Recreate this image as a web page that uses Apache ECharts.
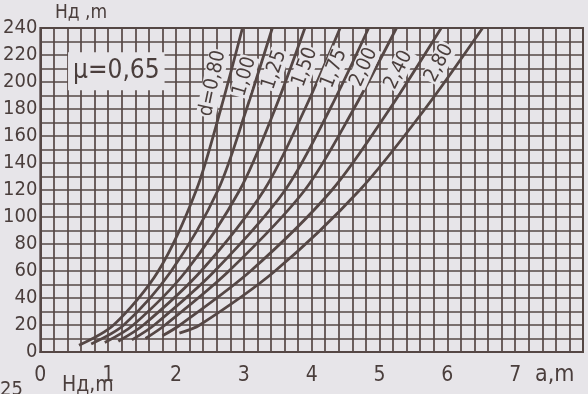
<!DOCTYPE html>
<html><head><meta charset="utf-8">
<script src="https://cdn.jsdelivr.net/npm/echarts@6/dist/echarts.min.js"></script>
<style>html,body{margin:0;padding:0;background:#e7e5e9}#c{width:588px;height:394px}</style>
</head><body><div id="c"></div>
<script>
// Axis ranges / ticks
const xMin = 0, xMax = 8, xStep = 0.2;
const yMin = 0, yMax = 240, yStep = 10;
// Curve labels (nozzle diameter d)
const dLabels = ['d=0,80', '1,00', '1,25', '1,50', '1,75', '2,00', '2,40', '2,80'];
// Curves: [a, Hд]
const curve080 = [[0.57, 5], [1.08, 20], [1.74, 60], [2.30, 120], [2.66, 180], [2.98, 240]];
const curve100 = [[0.75, 6], [1.23, 20], [1.93, 60], [2.62, 120], [3.04, 180], [3.42, 240]];
const curve125 = [[0.95, 7], [1.37, 20], [2.15, 60], [2.94, 120], [3.46, 180], [3.90, 240]];
const curve150 = [[1.15, 8], [1.52, 20], [2.37, 60], [3.30, 120], [3.90, 180], [4.42, 240]];
const curve175 = [[1.35, 9], [1.68, 20], [2.57, 60], [3.61, 120], [4.27, 180], [4.84, 240]];
const curve200 = [[1.55, 10], [1.84, 20], [2.78, 60], [3.90, 120], [4.62, 180], [5.25, 240]];
const curve240 = [[1.80, 12], [2.06, 20], [3.10, 60], [4.30, 120], [5.15, 180], [5.91, 240]];
const curve280 = [[2.05, 14], [2.35, 20], [3.46, 60], [4.71, 120], [5.67, 180], [6.52, 240]];
const curves = [curve080, curve100, curve125, curve150, curve175, curve200, curve240, curve280];
// Label anchors in data space and their angles (deg)
const labelAnchors = [[2.54, 199], [3.01, 204], [3.45, 209], [3.90, 211], [4.33, 210], [4.77, 211], [5.28, 209], [5.88, 214]];
const labelAngles = [78, 74, 72, 70, 68, 66, 64, 62];
const muText = 'μ=0,65';
const muAnchor = [1.12, 208];

const BG = '#e7e5e9', INK = '#554745', TXT = '#4a3e3c';
const FONT = "'DejaVu Sans Condensed','DejaVu Sans',sans-serif";

const chart = echarts.init(document.getElementById('c'));
chart.setOption({
  backgroundColor: BG,
  animation: false,
  grid: { left: 36, right: 5, top: 28, bottom: 42, show: true, borderColor: INK, borderWidth: 2 },
  xAxis: {
    type: 'value', min: xMin, max: xMax, interval: xStep,
    axisLine: { show: true, lineStyle: { color: INK, width: 2 } },
    axisTick: { show: false },
    splitLine: { show: true, lineStyle: { color: INK, width: 1.7 } },
    axisLabel: {
      margin: 13, color: TXT, fontSize: 21, fontFamily: FONT, showMinLabel: true, showMaxLabel: false,
      formatter: v => (Math.abs(v - Math.round(v)) < 1e-6 && Math.round(v) < 8) ? String(Math.round(v)) : ''
    }
  },
  yAxis: {
    type: 'value', min: yMin, max: yMax, interval: yStep,
    axisLine: { show: true, lineStyle: { color: INK, width: 2 } },
    axisTick: { show: false },
    splitLine: { show: true, lineStyle: { color: INK, width: 1.7 } },
    axisLabel: {
      margin: 3, color: TXT, fontSize: 20, fontFamily: FONT,
      formatter: v => (Math.round(v) % 20 === 0) ? String(Math.round(v)) : ''
    }
  },
  series: curves.map((c, i) => ({
    type: 'line', name: dLabels[i], data: c, smooth: 0.3, symbol: 'none', clip: true,
    lineStyle: { color: INK, width: 2.8 }
  }))
});

const g = [];
labelAnchors.forEach((p, i) => {
  const [x, y] = chart.convertToPixel({ gridIndex: 0 }, p);
  g.push({
    type: 'text', x, y, rotation: labelAngles[i] * Math.PI / 180, z: 100,
    style: { text: dLabels[i], font: '500 20px ' + FONT, fill: TXT, align: 'center', verticalAlign: 'middle',
      backgroundColor: BG, padding: [0, 1] }
  });
});
const [mx, my] = chart.convertToPixel({ gridIndex: 0 }, muAnchor);
g.push({ type: 'text', x: mx, y: my, z: 100,
  style: { text: muText, font: '26px ' + FONT, fill: TXT, align: 'center', verticalAlign: 'middle',
    backgroundColor: BG, padding: [7, 5, 5, 5] } });
g.push({ type: 'text', x: 55, y: 4, style: { text: 'Hд ,m', font: '19px ' + FONT, fill: TXT } });
g.push({ type: 'text', x: 535, y: 364, style: { text: 'a,m', font: '23px ' + FONT, fill: TXT } });
g.push({ type: 'text', x: 62, y: 375, style: { text: 'Hд,m', font: '21px ' + FONT, fill: TXT } });
g.push({ type: 'text', x: 0, y: 380, style: { text: '25', font: '20px ' + FONT, fill: TXT } });
chart.setOption({ graphic: g });
</script></body></html>
